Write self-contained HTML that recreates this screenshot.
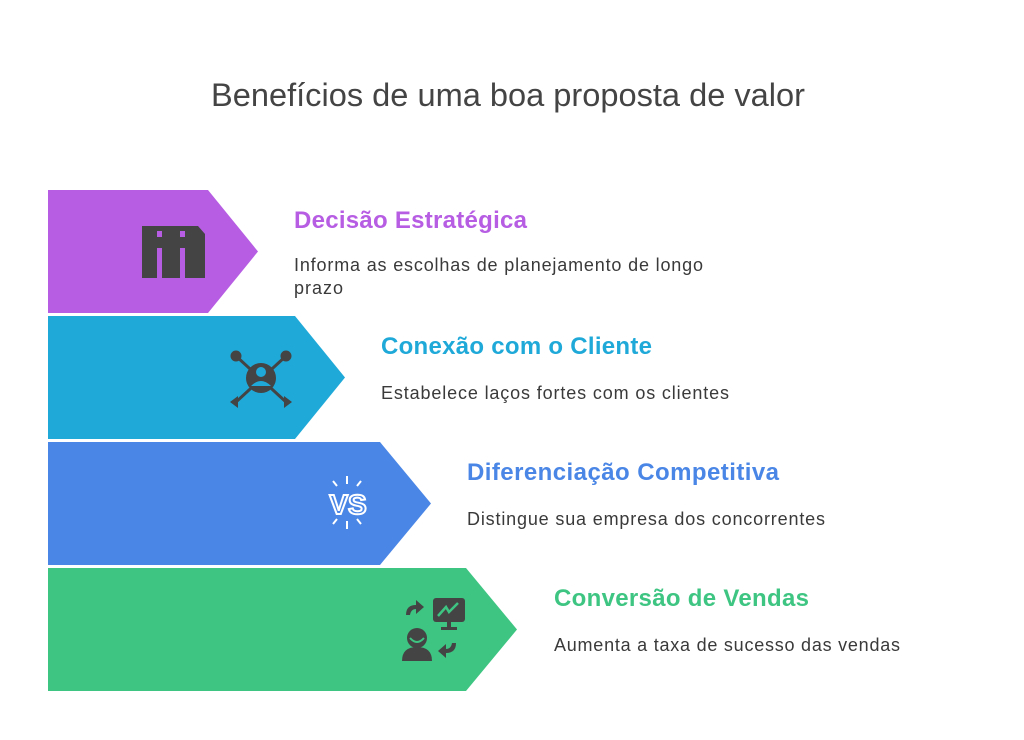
<!DOCTYPE html>
<html><head><meta charset="utf-8"><style>
body{margin:0;background:#fff;width:1024px;height:740px;overflow:hidden}
svg{display:block}
text{font-family:"Liberation Sans",Arial,sans-serif}
</style></head><body>
<svg width="1024" height="740" viewBox="0 0 1024 740">
<text x="211" y="106" font-size="32" fill="#444" textLength="594" lengthAdjust="spacingAndGlyphs">Benefícios de uma boa proposta de valor</text>

<polygon points="48,190 208,190 258,251.5 208,313 48,313" fill="#b65de3"/>
<polygon points="48,316 295,316 345,377.5 295,439 48,439" fill="#1fa9d9"/>
<polygon points="48,442 380,442 431,503.5 380,565 48,565" fill="#4a86e6"/>
<polygon points="48,568 466,568 517,629.5 466,691 48,691" fill="#3ec582"/>

<!-- icon 1 -->
<g fill="#444">
<path d="M142,226 H198 L205,234 V278 H185 V248 H180 V278 H162 V248 H157 V278 H142 Z"/>
</g>
<rect x="157" y="231" width="5" height="6" fill="#b65de3"/>
<rect x="180" y="231" width="5" height="6" fill="#b65de3"/>

<!-- icon 2 -->
<g fill="#444" stroke="#444" stroke-width="3">
<line x1="236" y1="356" x2="286" y2="402"/><line x1="286" y1="356" x2="236" y2="402"/>
<circle cx="236" cy="356" r="4"/><circle cx="286" cy="356" r="4"/>
</g>
<circle cx="261" cy="378" r="15" fill="#444"/>
<circle cx="261" cy="372" r="5" fill="#1fa9d9"/>
<path d="M251,386 Q261,376 271,386 Z" fill="#1fa9d9"/>
<polygon points="230,402 238,396 238,408" fill="#444"/>
<polygon points="292,402 284,396 284,408" fill="#444"/>

<!-- icon 3 VS -->
<text x="348" y="514" text-anchor="middle" font-size="28" font-weight="bold" fill="none" stroke="#fff" stroke-width="2">VS</text>
<g stroke="#fff" stroke-width="2">
<line x1="347" y1="476" x2="347" y2="484"/><line x1="333" y1="481" x2="337" y2="486"/><line x1="361" y1="481" x2="357" y2="486"/>
<line x1="347" y1="521" x2="347" y2="529"/><line x1="333" y1="524" x2="337" y2="519"/><line x1="361" y1="524" x2="357" y2="519"/>
</g>

<!-- icon 4 -->
<g fill="#444">
<rect x="433" y="598" width="32" height="24" rx="3"/>
<rect x="447" y="622" width="4" height="6"/><rect x="441" y="627" width="16" height="3"/>
<circle cx="417" cy="638" r="10"/>
<path d="M402,661 Q402,647 417,647 Q432,647 432,661 Z"/>
<path d="M406,615 Q406,605 416,605 L416,600 L424,607 L416,614 L416,609 Q411,609 410,615 Z"/>
<path d="M456,643 Q456,653 446,653 L446,658 L438,651 L446,644 L446,649 Q451,649 452,643 Z"/>
</g>
<polyline points="438,616 446,607 449,612 458,603" fill="none" stroke="#3ec582" stroke-width="2.5"/>
<path d="M410,638 Q417,646 424,638" fill="none" stroke="#3ec582" stroke-width="2"/>

<g font-size="24" font-weight="bold" lengthAdjust="spacingAndGlyphs">
<text x="294" y="228" fill="#b65de3" textLength="233">Decisão Estratégica</text>
<text x="381" y="354" fill="#1fa9d9" textLength="271">Conexão com o Cliente</text>
<text x="467" y="480" fill="#4a86e6" textLength="312">Diferenciação Competitiva</text>
<text x="554" y="606" fill="#3ec582" textLength="255">Conversão de Vendas</text>
</g>
<g font-size="18" fill="#3a3a3a" lengthAdjust="spacingAndGlyphs">
<text x="294" y="271" textLength="409">Informa as escolhas de planejamento de longo</text>
<text x="294" y="294" textLength="49">prazo</text>
<text x="381" y="399" textLength="348">Estabelece laços fortes com os clientes</text>
<text x="467" y="525" textLength="358">Distingue sua empresa dos concorrentes</text>
<text x="554" y="651" textLength="346">Aumenta a taxa de sucesso das vendas</text>
</g>
</svg>
</body></html>
